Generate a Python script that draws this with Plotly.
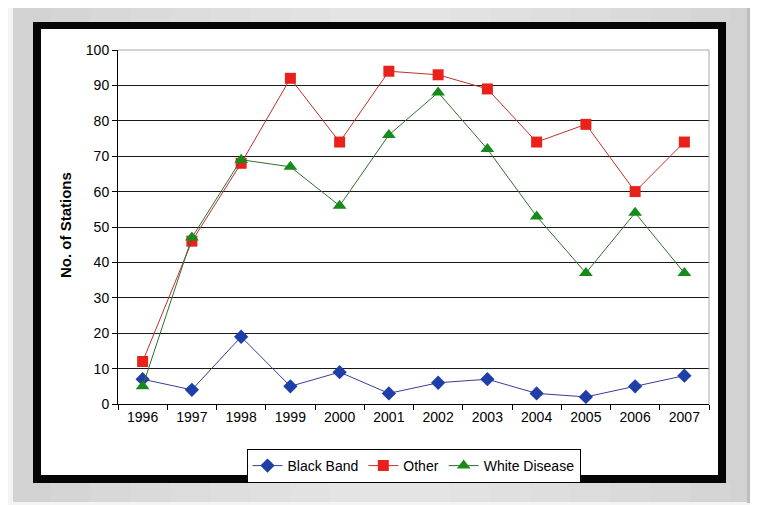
import plotly.graph_objects as go

years = ["1996", "1997", "1998", "1999", "2000", "2001", "2002", "2003", "2004", "2005", "2006", "2007"]
black_band = [7, 4, 19, 5, 9, 3, 6, 7, 3, 2, 5, 8]
other = [12, 46, 68, 92, 74, 94, 93, 89, 74, 79, 60, 74]
white_disease = [5, 47, 69, 67, 56, 76, 88, 72, 53, 37, 54, 37]
y_ticks = [0, 10, 20, 30, 40, 50, 60, 70, 80, 90, 100]

# the page adds an 8px body margin; lay out in window pixels and compensate
OFF = 8
W, H = 758 - OFF, 505 - OFF
L, R, T, B = 118 - OFF, 709 - OFF, 50 - OFF, 404 - OFF
FONT = "Arial, Liberation Sans, sans-serif"


def px(x):
    return (x - OFF - L) / (R - L)


def py(y):
    return (B - (y - OFF)) / (B - T)


fig = go.Figure()
fig.add_trace(go.Scatter(x=years, y=black_band, name="Black Band", mode="lines+markers",
                         line=dict(color="#3c3c96", width=1),
                         marker=dict(symbol="diamond", size=11, color="#1f3fa8")))
fig.add_trace(go.Scatter(x=years, y=other, name="Other", mode="lines+markers",
                         line=dict(color="#c0302c", width=1),
                         marker=dict(symbol="square", size=11, color="#e8221b")))
fig.add_trace(go.Scatter(x=years, y=white_disease, name="White Disease", mode="lines+markers",
                         line=dict(color="#2f6f2f", width=1),
                         marker=dict(symbol="triangle-up", size=12, color="#178a1c")))

shapes = []
# outer frame layers
shapes.append(dict(type="rect", xref="paper", yref="paper", layer="below",
                   x0=px(747), x1=px(753), y0=py(8), y1=py(503),
                   fillcolor="#bdbdbd", line=dict(width=0)))
shapes.append(dict(type="rect", xref="paper", yref="paper", layer="below",
                   x0=px(13), x1=px(747), y0=py(4), y1=py(502),
                   fillcolor="#d2d2d2", line=dict(width=0)))
# soft, stepped highlights on the frame (approximate gradient)
for i in range(8):
    half = 340 - i * 40
    for (ya, yb) in [(4, 22), (483, 502)]:
        shapes.append(dict(type="rect", xref="paper", yref="paper", layer="below",
                           x0=px(390 - half), x1=px(390 + half), y0=py(ya), y1=py(yb),
                           fillcolor="rgba(255,255,255,0.07)", line=dict(width=0)))
shapes.append(dict(type="rect", xref="paper", yref="paper", layer="below",
                   x0=px(33), x1=px(726), y0=py(22), y1=py(483),
                   fillcolor="#050505", line=dict(width=0)))
shapes.append(dict(type="rect", xref="paper", yref="paper", layer="below",
                   x0=px(41), x1=px(718), y0=py(29), y1=py(475),
                   fillcolor="#ffffff", line=dict(width=0)))
# gray top and right border of plot area
shapes.append(dict(type="line", xref="paper", yref="paper", layer="above",
                   x0=0, x1=1, y0=1, y1=1, line=dict(color="#a8a8a8", width=1)))
shapes.append(dict(type="line", xref="paper", yref="paper", layer="above",
                   x0=1, x1=1, y0=0, y1=1, line=dict(color="#a8a8a8", width=1)))

fig.update_layout(
    width=W, height=H,
    margin=dict(l=L, r=W - R, t=T, b=H - B),
    paper_bgcolor="#f4f4f4",
    plot_bgcolor="#ffffff",
    font=dict(family=FONT, size=14, color="#000000"),
    shapes=shapes,
    showlegend=True,
    legend=dict(orientation="h", x=0.5, xanchor="center", y=py(449), yanchor="top",
                bgcolor="#ffffff", bordercolor="#000000", borderwidth=1,
                font=dict(family=FONT, size=14, color="#000000"),
                itemwidth=30, tracegroupgap=0),
    annotations=[dict(text="<b>No. of Stations</b>", xref="paper", yref="paper",
                      x=px(65), y=py(225), xanchor="center", yanchor="middle",
                      textangle=-90, showarrow=False,
                      font=dict(family=FONT, size=15, color="#000000"))],
)
fig.update_xaxes(type="category", range=[-0.5, 11.5], showgrid=False,
                 showline=True, linecolor="#000000", linewidth=1,
                 ticks="outside", ticklen=5, tickcolor="#000000", tickson="boundaries",
                 tickfont=dict(family=FONT, size=14, color="#000000"))
fig.update_yaxes(range=[0, 100], tickvals=y_ticks, showgrid=True, gridcolor="#1a1a1a", gridwidth=1,
                 showline=True, linecolor="#000000", linewidth=1, zeroline=False,
                 ticks="outside", ticklen=5, tickcolor="#000000",
                 tickfont=dict(family=FONT, size=14, color="#000000"))

fig.write_html("out.html")
